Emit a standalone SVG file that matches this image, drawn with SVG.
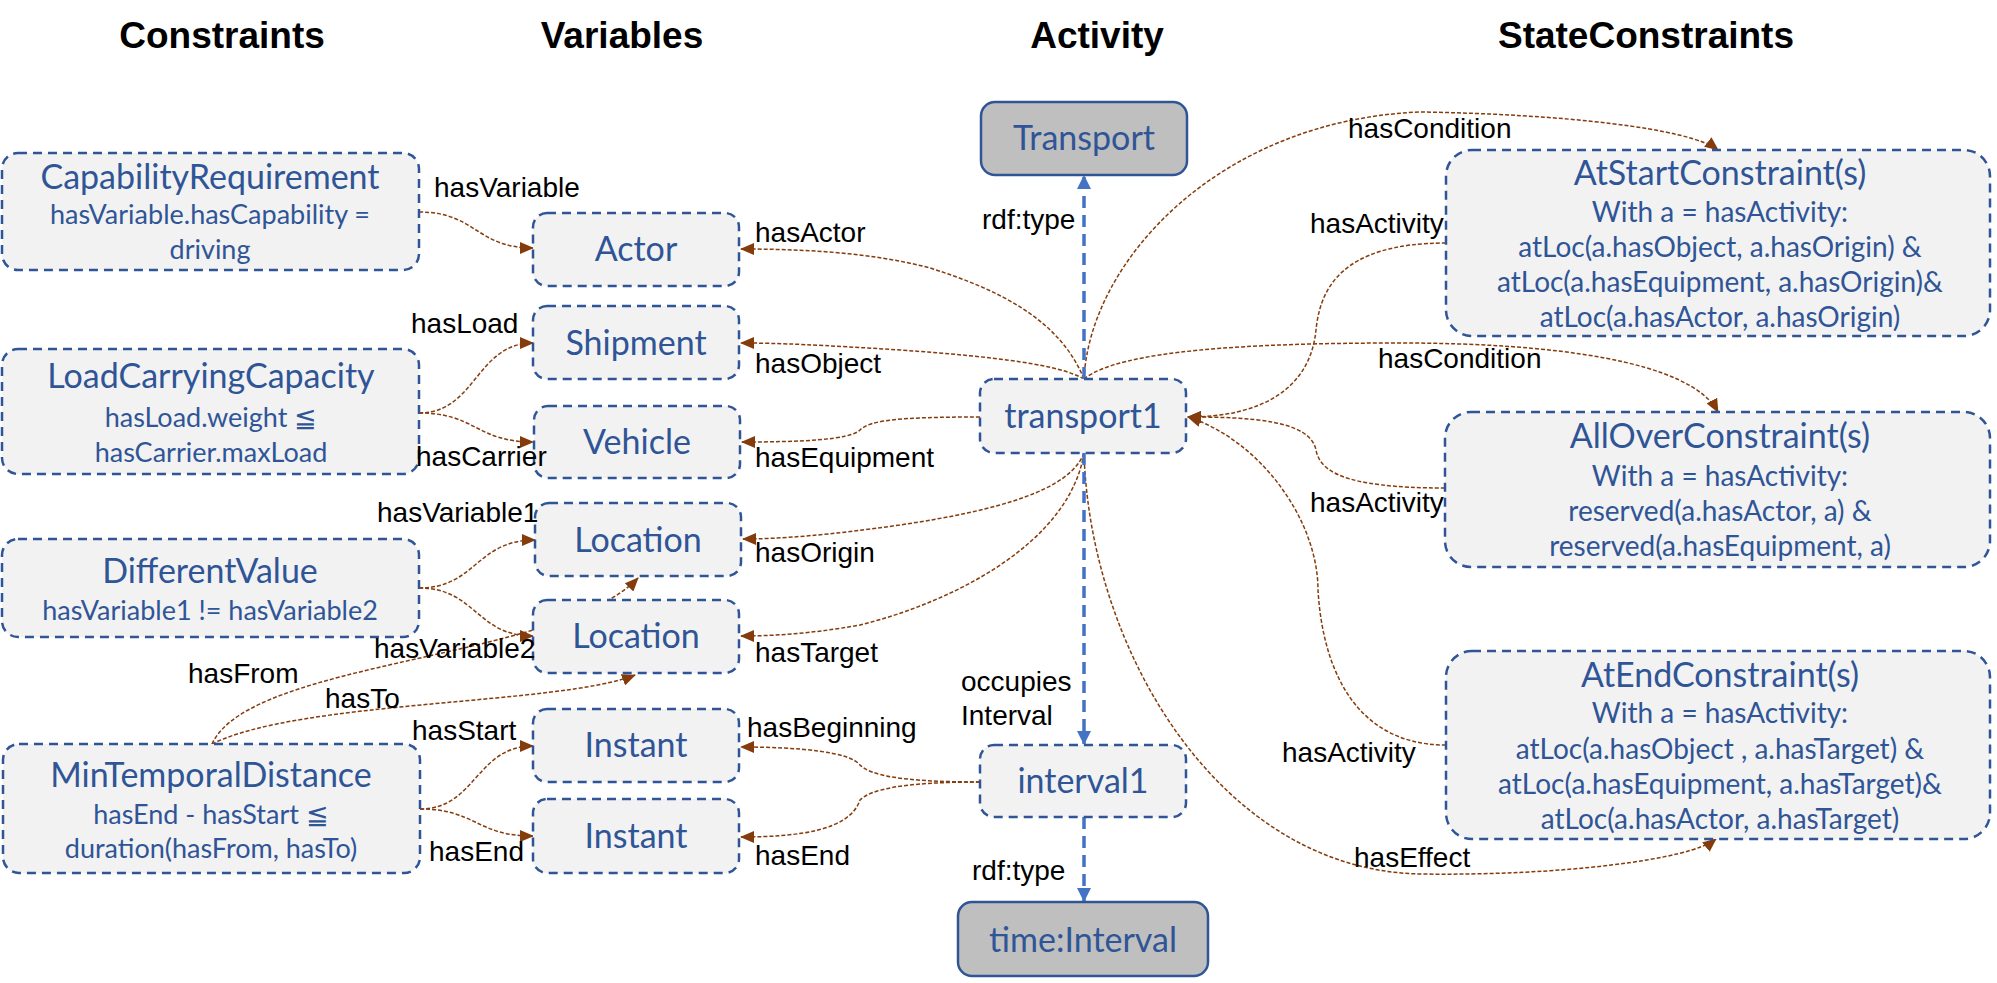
<svg xmlns="http://www.w3.org/2000/svg" width="1997" height="983" viewBox="0 0 1997 983">
<style>
.hdr{font-family:"Liberation Sans",Arial,sans-serif;font-weight:bold;font-size:37px;fill:#000;text-anchor:middle}
.lbl{font-family:"Liberation Sans",Arial,sans-serif;font-size:28px;fill:#000}
.node rect.v{fill:#F2F2F2;stroke:#2F5597;stroke-width:2.5;stroke-dasharray:9 6}
.node rect.t{fill:#BFBFBF;stroke:#2F5597;stroke-width:2.5}
.nt{font-family:Lato,"Open Sans",sans-serif;fill:#2F5597;text-anchor:middle}
.big{font-size:34px}
.sub{font-size:27px}
.ssub{font-size:28px}
.c{fill:none;stroke:#843C0C;stroke-width:1.5;stroke-dasharray:4 2;marker-end:url(#ab)}
.r{fill:none;stroke:#4472C4;stroke-width:3.5;stroke-dasharray:12 7;marker-end:url(#ar)}
</style>
<defs>
<marker id="ab" markerUnits="userSpaceOnUse" markerWidth="14" markerHeight="12" refX="13" refY="6" orient="auto"><path d="M0,0 L14,6 L0,12 z" fill="#843C0C"/></marker>
<marker id="ar" markerUnits="userSpaceOnUse" markerWidth="14" markerHeight="14" refX="13" refY="7" orient="auto"><path d="M0,0 L14,7 L0,14 z" fill="#4472C4"/></marker>
</defs>
<rect width="1997" height="983" fill="#fff"/>
<g id="headers">
<text class="hdr" x="222" y="48">Constraints</text>
<text class="hdr" x="622" y="48">Variables</text>
<text class="hdr" x="1097" y="48">Activity</text>
<text class="hdr" x="1646" y="48">StateConstraints</text>
</g>
<g id="connectors">
<path class="c" d="M419,212 C476,212 476,248 533,248"/>
<path class="c" d="M419,413 C476,413 476,343 533,343"/>
<path class="c" d="M419,413 C476,413 476,442 533,442"/>
<path class="c" d="M419,588 C476,588 476,540 535,540"/>
<path class="c" d="M419,588 C476,588 476,636 533,636"/>
<path class="c" d="M420,809 C476,809 476,746 533,746"/>
<path class="c" d="M420,809 C476,809 476,836 533,836"/>
<path class="c" d="M212,744 C250,660 560,660 638,578"/>
<path class="c" d="M212,744 C300,700 560,705 635,675"/>
<path class="c" d="M1084,379 C1060,320 1000,290 930,268 C870,252 800,249 741,249"/>
<path class="c" d="M1084,379 C1060,365 1000,357 900,350 C820,345 780,343 741,343"/>
<path class="c" d="M980,417 C900,417 870,420 860,430 C850,440 800,442 742,442"/>
<path class="c" d="M1084,453 C1070,490 1000,510 900,525 C830,535 780,539 743,539"/>
<path class="c" d="M1084,453 C1070,540 960,600 860,625 C810,634 770,636 741,636"/>
<path class="c" d="M980,782 C900,782 870,775 860,765 C850,752 800,747 741,747"/>
<path class="c" d="M980,782 C900,782 870,790 860,800 C850,830 800,837 741,837"/>
<path class="c" d="M1084,379 C1090,260 1220,120 1420,112 C1560,114 1690,128 1718,150"/>
<path class="c" d="M1084,379 C1120,350 1250,343 1400,343 C1550,343 1690,360 1718,412"/>
<path class="c" d="M1446,243 C1340,243 1320,290 1316,330 C1310,390 1260,417 1188,417"/>
<path class="c" d="M1445,488 C1340,488 1320,470 1316,450 C1310,420 1250,417 1188,417"/>
<path class="c" d="M1446,745 C1350,745 1322,660 1318,590 C1318,520 1260,440 1188,417"/>
<path class="c" d="M1084,453 C1090,650 1220,870 1420,874 C1560,876 1690,860 1716,839"/>
<path class="r" d="M1084,379 L1084,176"/>
<path class="r" d="M1084,453 L1084,744"/>
<path class="r" d="M1084,817 L1084,901"/>
</g>
<g id="capabilityRequirement" class="node">
<rect class="v" x="2" y="153" width="417" height="117" rx="16"/>
<text class="nt big" x="210" y="189">CapabilityRequirement</text>
<text class="nt sub" x="210" y="224">hasVariable.hasCapability =</text>
<text class="nt sub" x="210" y="259">driving</text>
</g>
<g id="loadCarryingCapacity" class="node">
<rect class="v" x="2" y="349" width="417" height="125" rx="16"/>
<text class="nt big" x="211" y="388">LoadCarryingCapacity</text>
<text class="nt sub" x="211" y="427">hasLoad.weight ≦</text>
<text class="nt sub" x="211" y="462">hasCarrier.maxLoad</text>
</g>
<g id="differentValue" class="node">
<rect class="v" x="2" y="539" width="417" height="98" rx="16"/>
<text class="nt big" x="210" y="583">DifferentValue</text>
<text class="nt sub" x="210" y="620">hasVariable1 != hasVariable2</text>
</g>
<g id="minTemporalDistance" class="node">
<rect class="v" x="3" y="744" width="417" height="129" rx="16"/>
<text class="nt big" x="211" y="787">MinTemporalDistance</text>
<text class="nt sub" x="211" y="824">hasEnd - hasStart ≦</text>
<text class="nt sub" x="211" y="858">duration(hasFrom, hasTo)</text>
</g>
<g id="actor" class="node">
<rect class="v" x="533" y="213" width="206" height="73" rx="14"/>
<text class="nt big" x="636" y="261">Actor</text>
</g>
<g id="shipment" class="node">
<rect class="v" x="533" y="306" width="206" height="73" rx="14"/>
<text class="nt big" x="636" y="355">Shipment</text>
</g>
<g id="vehicle" class="node">
<rect class="v" x="534" y="406" width="206" height="72" rx="14"/>
<text class="nt big" x="637" y="454">Vehicle</text>
</g>
<g id="location1" class="node">
<rect class="v" x="535" y="503" width="206" height="73" rx="14"/>
<text class="nt big" x="638" y="552">Location</text>
</g>
<g id="location2" class="node">
<rect class="v" x="533" y="600" width="206" height="73" rx="14"/>
<text class="nt big" x="636" y="648">Location</text>
</g>
<g id="instant1" class="node">
<rect class="v" x="533" y="709" width="206" height="73" rx="14"/>
<text class="nt big" x="636" y="757">Instant</text>
</g>
<g id="instant2" class="node">
<rect class="v" x="533" y="799" width="206" height="74" rx="14"/>
<text class="nt big" x="636" y="848">Instant</text>
</g>
<g id="transport" class="node">
<rect class="t" x="981" y="102" width="206" height="73" rx="14"/>
<text class="nt big" x="1084" y="150">Transport</text>
</g>
<g id="transport1" class="node">
<rect class="v" x="980" y="379" width="206" height="74" rx="14"/>
<text class="nt big" x="1083" y="428">transport1</text>
</g>
<g id="interval1" class="node">
<rect class="v" x="980" y="745" width="206" height="72" rx="14"/>
<text class="nt big" x="1083" y="793">interval1</text>
</g>
<g id="timeInterval" class="node">
<rect class="t" x="958" y="902" width="250" height="74" rx="14"/>
<text class="nt big" x="1083" y="952">time:Interval</text>
</g>
<g id="atStart" class="node">
<rect class="v" x="1446" y="150" width="544" height="186" rx="26"/>
<text class="nt big" x="1720" y="185">AtStartConstraint(s)</text>
<text class="nt ssub" x="1720" y="222">With a = hasActivity:</text>
<text class="nt ssub" x="1720" y="257">atLoc(a.hasObject, a.hasOrigin) &amp;</text>
<text class="nt ssub" x="1720" y="292">atLoc(a.hasEquipment, a.hasOrigin)&amp;</text>
<text class="nt ssub" x="1720" y="327">atLoc(a.hasActor, a.hasOrigin)</text>
</g>
<g id="allOver" class="node">
<rect class="v" x="1445" y="412" width="545" height="155" rx="26"/>
<text class="nt big" x="1720" y="448">AllOverConstraint(s)</text>
<text class="nt ssub" x="1720" y="486">With a = hasActivity:</text>
<text class="nt ssub" x="1720" y="521">reserved(a.hasActor, a) &amp;</text>
<text class="nt ssub" x="1720" y="556">reserved(a.hasEquipment, a)</text>
</g>
<g id="atEnd" class="node">
<rect class="v" x="1446" y="651" width="544" height="188" rx="26"/>
<text class="nt big" x="1720" y="687">AtEndConstraint(s)</text>
<text class="nt ssub" x="1720" y="723">With a = hasActivity:</text>
<text class="nt ssub" x="1720" y="759">atLoc(a.hasObject , a.hasTarget) &amp;</text>
<text class="nt ssub" x="1720" y="794">atLoc(a.hasEquipment, a.hasTarget)&amp;</text>
<text class="nt ssub" x="1720" y="829">atLoc(a.hasActor, a.hasTarget)</text>
</g>
<g id="labels">
<text class="lbl" x="434" y="197">hasVariable</text>
<text class="lbl" x="411" y="333">hasLoad</text>
<text class="lbl" x="416" y="466">hasCarrier</text>
<text class="lbl" x="377" y="522">hasVariable1</text>
<text class="lbl" x="374" y="658">hasVariable2</text>
<text class="lbl" x="188" y="683">hasFrom</text>
<text class="lbl" x="325" y="708">hasTo</text>
<text class="lbl" x="412" y="740">hasStart</text>
<text class="lbl" x="429" y="861">hasEnd</text>
<text class="lbl" x="755" y="242">hasActor</text>
<text class="lbl" x="755" y="373">hasObject</text>
<text class="lbl" x="755" y="467">hasEquipment</text>
<text class="lbl" x="755" y="562">hasOrigin</text>
<text class="lbl" x="755" y="662">hasTarget</text>
<text class="lbl" x="747" y="737">hasBeginning</text>
<text class="lbl" x="755" y="865">hasEnd</text>
<text class="lbl" x="982" y="229">rdf:type</text>
<text class="lbl" x="961" y="691">occupies</text>
<text class="lbl" x="961" y="725">Interval</text>
<text class="lbl" x="972" y="880">rdf:type</text>
<text class="lbl" x="1348" y="138">hasCondition</text>
<text class="lbl" x="1378" y="368">hasCondition</text>
<text class="lbl" x="1310" y="233">hasActivity</text>
<text class="lbl" x="1310" y="512">hasActivity</text>
<text class="lbl" x="1282" y="762">hasActivity</text>
<text class="lbl" x="1354" y="867">hasEffect</text>
</g>
</svg>
